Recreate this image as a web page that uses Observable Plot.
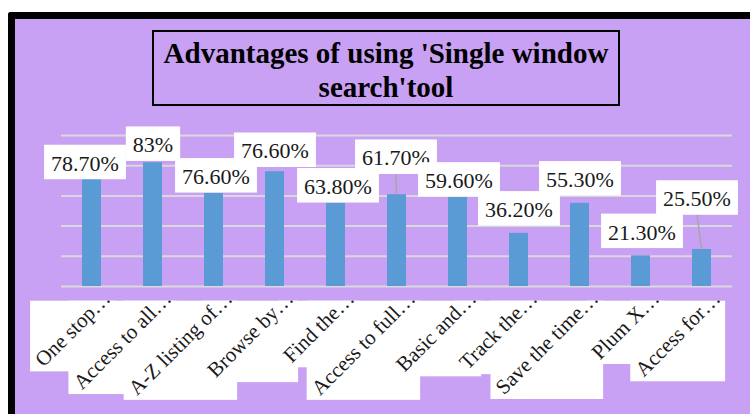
<!DOCTYPE html>
<html><head><meta charset="utf-8">
<script src="https://cdn.jsdelivr.net/npm/d3@7"></script>
<script src="https://cdn.jsdelivr.net/npm/@observablehq/plot@0.6"></script>
<style>
html,body{margin:0;padding:0;background:#fff;}
#wrap{position:relative;width:750px;height:414px;overflow:hidden;}
#frame{position:absolute;left:8px;top:12px;width:760px;height:420px;background:#c8a0f4;border-left:7px solid #000;border-top:7px solid #000;border-top-left-radius:3px;}
#title{position:absolute;left:152px;top:30px;width:468px;height:76px;box-sizing:border-box;border:2px solid #000;text-align:center;font:700 29px/34px "Liberation Serif",serif;padding-top:4px;color:#000;white-space:nowrap;}
#chart{position:absolute;left:0;top:0;}
</style></head><body>
<div id="wrap"><div id="frame"></div><div id="title">Advantages of using 'Single window<br>search'tool</div><div id="chart"></div></div>
<script>
// Data
const categories = ["One stop…","Access to all…","A-Z listing of…","Browse by…","Find the…","Access to full…","Basic and…","Track the…","Save the time…","Plum X…","Access for…"];
const barValues = [71.2, 82.0, 61.7, 76.0, 55.1, 60.8, 59.0, 35.2, 55.1, 20.3, 24.5];
const labelTexts = ["78.70%","83%","76.60%","76.60%","63.80%","61.70%","59.60%","36.20%","55.30%","21.30%","25.50%"];
const gridTicks = [0, 20, 40, 60, 80, 100];

// Label placement (layout, px)
const labelShift = [-7, 0, 2, 0, 2, -1, 1, 0, 0, 1, -5];
const labelGap = [0, 2, 1, 5, 1, 21, 1, 8, 8, 8, 35];

const rows = categories.map((c, i) => ({cat: c, value: barValues[i], label: labelTexts[i]}));
const font = "'Liberation Serif', 'Times New Roman', serif";

const plot = Plot.plot({
  width: 750, height: 414,
  marginLeft: 61, marginRight: 18, marginTop: 135, marginBottom: 128,
  x: {domain: categories, paddingInner: 0.69, paddingOuter: 0.345, axis: null},
  y: {domain: [0, 100], axis: null},
  style: {background: "transparent", overflow: "visible", fontFamily: font},
  marks: [
    Plot.ruleY(gridTicks, {y: d => d, stroke: "#d9d9d9", strokeWidth: 2, strokeOpacity: 1}),
    Plot.barY(rows, {x: "cat", y: "value", fill: "#5b9bd5"}),
    ...rows.map((r, i) => Plot.text([r], {
      x: "cat", y: "value", text: "label",
      dx: labelShift[i], dy: -(labelGap[i] + 8.25),
      lineAnchor: "bottom", fontSize: 22, fontFamily: font, fill: "#1a1a1a"
    })),
    Plot.text(rows, {
      x: "cat", frameAnchor: "bottom", text: "cat",
      rotate: -45, textAnchor: "end", lineAnchor: "bottom",
      dx: 19.6, dy: 13.3, fontSize: 21, fontFamily: font, fill: "#1a1a1a"
    })
  ]
});
document.getElementById("chart").append(plot);

// Excel-style white label boxes and leader lines
const svg = plot;
const ns = "http://www.w3.org/2000/svg";
const sr = svg.getBoundingClientRect();
const mk = (tag, attrs) => { const e = document.createElementNS(ns, tag); for (const k in attrs) e.setAttribute(k, attrs[k]); return e; };
const groups = [...svg.children].filter(e => e.tagName.toLowerCase() === "g");
const barG = groups.find(g => g.querySelector("rect"));
const textGroups = groups.filter(g => g.querySelector("text"));
const labelGroups = textGroups.slice(0, rows.length);
const catG = textGroups[rows.length];
const barBoxes = [...barG.querySelectorAll("rect")].map(b => b.getBoundingClientRect());
const leaderG = mk("g", {});
labelGroups.forEach((g, i) => {
  const t = g.querySelector("text");
  const r = t.getBoundingClientRect();
  const x0 = r.left - sr.left - 7, x1 = r.right - sr.left + 7;
  const y0 = r.top - sr.top - 6, y1 = r.bottom - sr.top + 3.5;
  svg.insertBefore(mk("rect", {x: x0, y: y0, width: x1 - x0, height: y1 - y0, fill: "#fff"}), g);
  const b = barBoxes[i];
  const barTop = b.top - sr.top, barCx = (b.left + b.right) / 2 - sr.left;
  if (barTop - y1 > 12) {
    leaderG.append(mk("line", {x1: (x0 + x1) / 2, y1: y1, x2: barCx, y2: barTop, stroke: "#a6a6a6", "stroke-width": 1.5}));
  }
});
svg.insertBefore(leaderG, barG.nextSibling);

const baseY = barBoxes[0].bottom - sr.top;
const boxTop = baseY + 14.7;
const bg = mk("g", {});
catG.querySelectorAll("text").forEach(t => {
  const r = t.getBoundingClientRect();
  const bottom = r.bottom - sr.top;
  bg.append(mk("rect", {x: r.left - sr.left, y: boxTop, width: r.width, height: bottom - boxTop, fill: "#fff"}));
});
svg.insertBefore(bg, catG);
</script>
</body></html>
